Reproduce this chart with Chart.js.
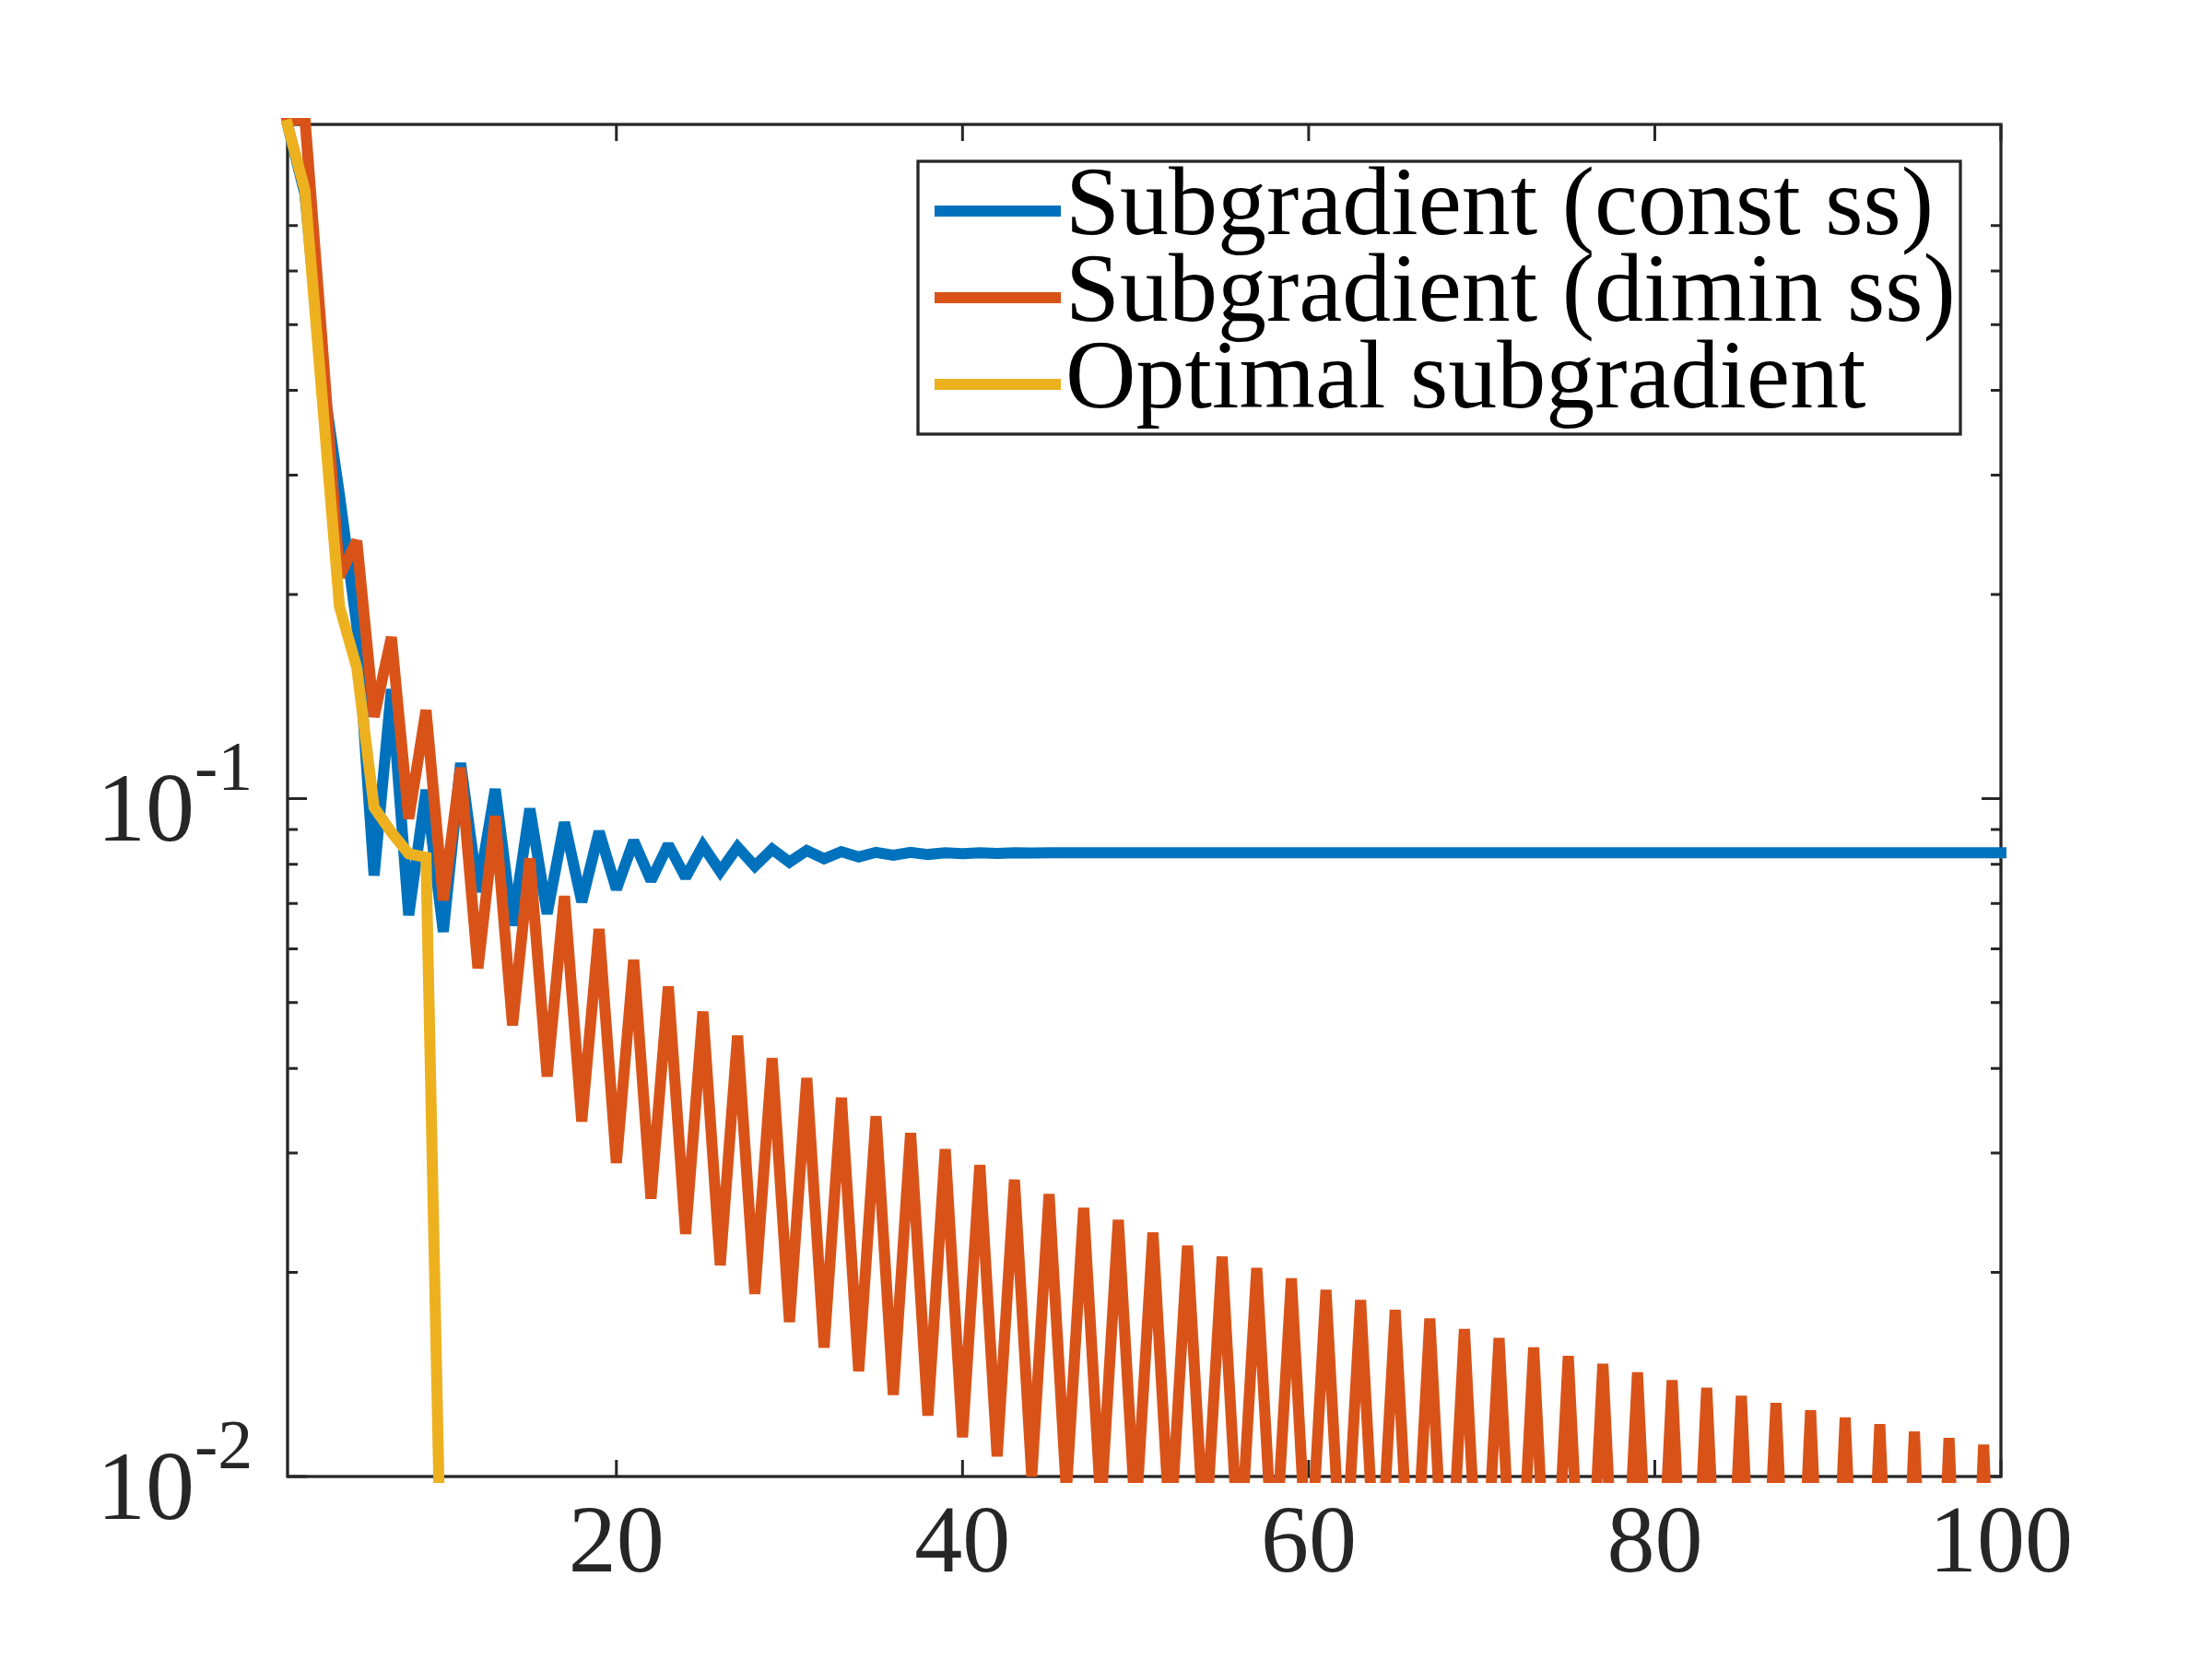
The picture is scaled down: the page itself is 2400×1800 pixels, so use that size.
<!DOCTYPE html>
<html>
<head>
<meta charset="utf-8">
<script src="https://cdn.jsdelivr.net/npm/chart.js@4.4.1/dist/chart.umd.min.js"></script>
<style>
html,body{margin:0;padding:0;background:#ffffff;}
canvas{display:block;}
</style>
</head>
<body>
<canvas id="c" width="2400" height="1800" style="width:2400px;height:1800px"></canvas>
<script>
// ---------------- data ----------------
const iterations = [1,2,3,4,5,6,7,8,9,10,11,12,13,14,15,16,17,18,19,20,
  21,22,23,24,25,26,27,28,29,30,31,32,33,34,35,36,37,38,39,40,
  41,42,43,44,45,46,47,48,49,50,51,52,53,54,55,56,57,58,59,60,
  61,62,63,64,65,66,67,68,69,70,71,72,73,74,75,76,77,78,79,80,
  81,82,83,84,85,86,87,88,89,90,91,92,93,94,95,96,97,98,99,100];

const constSS = [0.985,0.78,0.42,0.28,0.18,0.077,0.145,0.0673,0.103,0.0636,
  0.1128,0.0728,0.1032,0.065,0.0966,0.0676,0.0922,0.0704,0.0894,0.0735,
  0.0866,0.0757,0.0855,0.0765,0.0852,0.0781,0.0848,0.0795,0.0842,0.0806,
  0.0838,0.0815,0.0835,0.0820,0.0833,0.0825,0.0833,0.0827,0.0832,0.0829,
  0.0832,0.0830,0.0832,0.0831,0.0832,0.0832,0.0832,0.0832,0.0832,0.0832,
  0.0832,0.0832,0.0832,0.0832,0.0832,0.0832,0.0832,0.0832,0.0832,0.0832,
  0.0832,0.0832,0.0832,0.0832,0.0832,0.0832,0.0832,0.0832,0.0832,0.0832,
  0.0832,0.0832,0.0832,0.0832,0.0832,0.0832,0.0832,0.0832,0.0832,0.0832,
  0.0832,0.0832,0.0832,0.0832,0.0832,0.0832,0.0832,0.0832,0.0832,0.0832,
  0.0832,0.0832,0.0832,0.0832,0.0832,0.0832,0.0832,0.0832,0.0832,0.0832];

const diminSS = [0.995,1.01,0.47,0.2126,0.240,0.132,0.173,0.0934,0.135,0.0708,
  0.111,0.0562,0.0942,0.0463,0.0816,0.0389,0.0718,0.0334,0.0642,0.0290,
  0.0578,0.0257,0.0528,0.0228,0.0485,0.0205,0.0447,0.0186,0.0414,0.0169,
  0.0387,0.0155,0.0362,0.0143,0.0340,0.0132,0.0321,0.0123,0.0304,0.01143,
  0.0288,0.01071,0.0274,0.0100,0.0261,0.0095,0.0249,0.0090,0.0239,0.0086,
  0.0229,0.0082,0.0219,0.0078,0.0211,0.0074,0.0203,0.0071,0.0196,0.0067,
  0.01885,0.0064,0.0182,0.0061,0.0176,0.0058,0.0171,0.0055,0.0165,0.0053,
  0.0160,0.0050,0.0155,0.0048,0.01506,0.0046,0.01466,0.0043,0.01424,0.0041,
  0.01387,0.0039,0.01351,0.0038,0.01315,0.0036,0.01283,0.0034,0.01252,0.0033,
  0.01222,0.0031,0.01194,0.0030,0.01165,0.0028,0.0114,0.0027,0.01114,0.0026];

const optimal = [0.985,0.79,0.39,0.192,0.156,0.097,0.0892,0.0829,0.0819,0.0047];

const seriesLabels = ['Subgradient (const ss)', 'Subgradient (dimin ss)', 'Optimal subgradient'];
const seriesColors = ['#0072BD', '#D95319', '#EDB120'];

const xRange = [1, 100];
const yRange = [0.01, 0.987];
const xTickValues = [20, 40, 60, 80, 100];
const yMajorTicks = [0.01, 0.1];
const yMajorBase = ['10', '10'];
const yMajorExp = ['-2', '-1'];
const yMinorTicks = [0.02,0.03,0.04,0.05,0.06,0.07,0.08,0.09,0.2,0.3,0.4,0.5,0.6,0.7];

// ---------------- styling ----------------
const axisColor = '#262626';
const serif = '"Liberation Serif", "DejaVu Serif", serif';

function toPoints(values) {
  return values.map((v, i) => ({ x: iterations[i], y: v }));
}

const matlabAxes = {
  id: 'matlabAxes',
  beforeDatasetsDraw(chart) {
    const { ctx, chartArea: a, scales } = chart;
    const x = scales.x, y = scales.y;
    ctx.save();
    ctx.strokeStyle = axisColor;
    ctx.lineWidth = 3.3;
    ctx.lineCap = 'butt';
    ctx.strokeRect(a.left, a.top, a.right - a.left, a.bottom - a.top);
    ctx.lineWidth = 3;
    ctx.beginPath();
    xTickValues.forEach(v => {
      const px = x.getPixelForValue(v);
      ctx.moveTo(px, a.bottom); ctx.lineTo(px, a.bottom - 18);
      ctx.moveTo(px, a.top); ctx.lineTo(px, a.top + 18);
    });
    yMajorTicks.forEach(v => {
      const py = y.getPixelForValue(v);
      ctx.moveTo(a.left, py); ctx.lineTo(a.left + 21, py);
      ctx.moveTo(a.right, py); ctx.lineTo(a.right - 21, py);
    });
    yMinorTicks.forEach(v => {
      const py = y.getPixelForValue(v);
      ctx.moveTo(a.left, py); ctx.lineTo(a.left + 11, py);
      ctx.moveTo(a.right, py); ctx.lineTo(a.right - 11, py);
    });
    ctx.stroke();
    ctx.restore();
    ctx.miterLimit = 2;
  },
  afterDatasetsDraw(chart) {
    const { ctx, chartArea: a, scales } = chart;
    const y = scales.y;
    ctx.miterLimit = 10;
    ctx.save();
    // y tick labels 10^n
    ctx.fillStyle = axisColor;
    yMajorTicks.forEach((v, i) => {
      const py = y.getPixelForValue(v);
      ctx.font = '106px ' + serif;
      ctx.textAlign = 'right';
      ctx.textBaseline = 'alphabetic';
      ctx.fillText(yMajorBase[i], 211, py + 46);
      ctx.font = '76px ' + serif;
      ctx.textAlign = 'left';
      ctx.fillText(yMajorExp[i], 211, py - 9);
    });
    // legend
    const bx = 996, by = 175, bw = 1131, bh = 296;
    ctx.fillStyle = '#ffffff';
    ctx.fillRect(bx, by, bw, bh);
    ctx.strokeStyle = axisColor;
    ctx.lineWidth = 3.3;
    ctx.strokeRect(bx, by, bw, bh);
    chart.data.datasets.forEach((ds, i) => {
      const rowY = 229 + i * 94;
      ctx.strokeStyle = ds.borderColor;
      ctx.lineWidth = 12;
      ctx.lineCap = 'butt';
      ctx.beginPath();
      ctx.moveTo(1014, rowY);
      ctx.lineTo(1151, rowY);
      ctx.stroke();
      ctx.fillStyle = '#000000';
      ctx.font = '106px ' + serif;
      ctx.textAlign = 'left';
      ctx.textBaseline = 'alphabetic';
      ctx.fillText(ds.label, 1156, rowY + 25);
    });
    ctx.restore();
  }
};

new Chart(document.getElementById('c'), {
  type: 'line',
  data: {
    datasets: [
      { label: seriesLabels[0], data: toPoints(constSS), borderColor: seriesColors[0], order: 3, clip: 7 },
      { label: seriesLabels[1], data: toPoints(diminSS), borderColor: seriesColors[1], order: 2, clip: 7 },
      { label: seriesLabels[2], data: toPoints(optimal), borderColor: seriesColors[2], order: 1, clip: 7 }
    ]
  },
  options: {
    responsive: false,
    devicePixelRatio: 1,
    animation: false,
    layout: { padding: { left: 312, top: 135, right: 229, bottom: 0 } },
    elements: {
      line: { borderWidth: 12, tension: 0, fill: false, borderJoinStyle: 'miter', borderCapStyle: 'square' },
      point: { radius: 0, hoverRadius: 0 }
    },
    plugins: { legend: { display: false }, tooltip: { enabled: false } },
    scales: {
      x: {
        type: 'linear',
        min: xRange[0], max: xRange[1],
        grid: { display: false, drawTicks: false },
        border: { display: false },
        ticks: {
          font: { family: serif, size: 104 },
          color: axisColor,
          padding: 13,
          maxRotation: 0,
          callback: v => String(v)
        },
        afterBuildTicks: s => { s.ticks = xTickValues.map(v => ({ value: v })); },
        afterFit: s => { s.height = 198; }
      },
      y: {
        type: 'logarithmic',
        min: yRange[0], max: yRange[1],
        display: false
      }
    }
  },
  plugins: [matlabAxes]
});
</script>
</body>
</html>
